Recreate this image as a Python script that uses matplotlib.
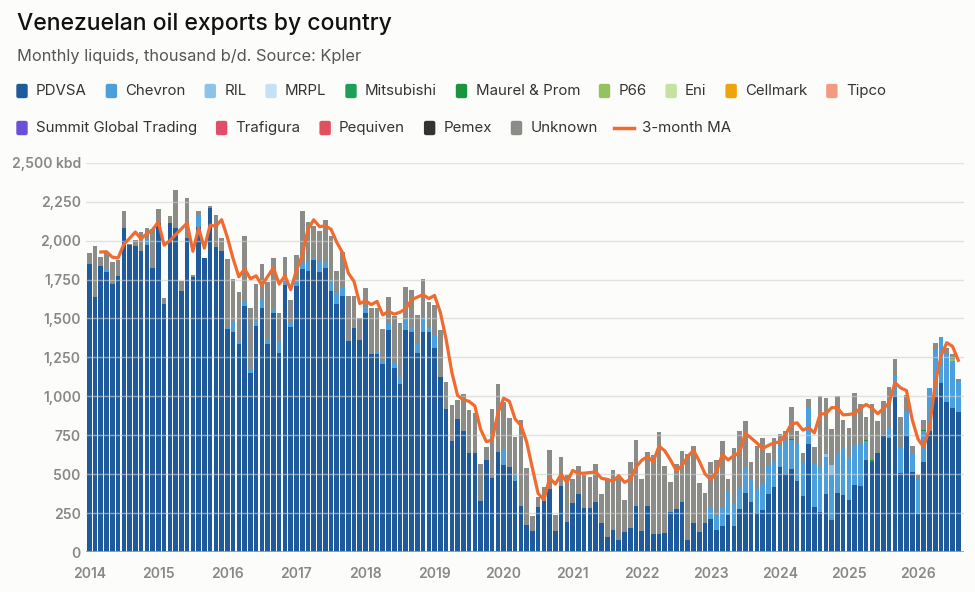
import matplotlib.pyplot as plt
from matplotlib.patches import FancyBboxPatch
from matplotlib.lines import Line2D
import numpy as np
import pandas as pd

plt.rcParams['font.family'] = ['Inter', 'DejaVu Sans']

months = pd.date_range('2014-01-01', periods=152, freq='MS')

# kbd, one value per month
pdvsa = [
    1848, 1638, 1840, 1797, 1724, 1773, 2083, 1972, 1966, 1936, 1972, 1827,
    2111, 1596, 2111, 2083, 1677, 2019, 1765, 2085, 1887, 2207, 1957, 1934,
    1433, 1410, 1335, 1581, 1153, 1452, 1570, 1335, 1538, 1277, 1715, 1444,
    1709, 1818, 1805, 1876, 1801, 1827, 1679, 1596, 1647, 1358, 1442, 1363,
    1538, 1273, 1273, 1209, 1427, 1181, 1080, 1427, 1410, 1277, 1410, 1410,
    1309, 1121, 918, 714, 853, 779, 635, 635, 329, 593, 475, 645,
    558, 543, 457, 295, 173, 137, 286, 327, 402, 135, 423, 192,
    312, 372, 280, 284, 323, 188, 98, 141, 77, 130, 152, 297,
    135, 295, 115, 115, 120, 254, 276, 323, 77, 184, 126, 184,
    212, 141, 167, 237, 169, 274, 380, 321, 248, 267, 372, 419,
    547, 504, 530, 455, 359, 692, 291, 256, 372, 205, 380, 365,
    334, 430, 424, 591, 580, 638, 745, 730, 1002, 506, 752, 516,
    244, 580, 778, 1002, 1088, 966, 923, 901,
]
chevron = [
    0, 0, 0, 21, 0, 0, 0, 0, 0, 0, 36, 0,
    0, 0, 0, 0, 0, 0, 0, 75, 0, 0, 0, 0,
    8, 70, 23, 32, 17, 32, 51, 36, 21, 81, 33, 30,
    43, 37, 60, 21, 64, 38, 53, 66, 53, 0, 0, 0,
    38, 0, 17, 11, 38, 32, 47, 68, 32, 68, 92, 32,
    86, 0, 0, 0, 0, 0, 0, 0, 0, 0, 0, 0,
    96, 0, 37, 0, 0, 0, 0, 0, 0, 0, 0, 0,
    0, 0, 0, 0, 0, 0, 0, 0, 0, 0, 0, 0,
    0, 0, 0, 0, 0, 0, 0, 0, 0, 0, 0, 0,
    79, 92, 124, 150, 143, 134, 167, 151, 154, 167, 186, 156,
    133, 210, 188, 237, 220, 240, 273, 291, 239, 289, 248, 306,
    268, 258, 272, 122, 0, 0, 0, 69, 135, 160, 150, 122,
    219, 200, 274, 296, 292, 304, 301, 189,
]
unknown = [
    70, 330, 55, 105, 140, 105, 105, 5, 35, 120, 70, 250,
    95, 35, 50, 240, 65, 255, 15, 30, 0, 15, 210, 80,
    440, 275, 310, 420, 395, 240, 230, 365, 330, 180, 150, 145,
    155, 335, 255, 195, 195, 265, 300, 145, 230, 285, 200, 140,
    120, 295, 275, 215, 170, 300, 345, 210, 240, 180, 250, 165,
    190, 305, 175, 230, 125, 235, 275, 255, 235, 80, 445, 435,
    310, 315, 245, 550, 365, 95, 70, 90, 250, 105, 185, 300,
    160, 180, 215, 200, 240, 185, 365, 385, 405, 205, 425, 425,
    335, 350, 510, 655, 435, 195, 290, 325, 550, 500, 315, 195,
    285, 355, 425, 85, 355, 370, 295, 105, 280, 300, 80, 155,
    75, 65, 210, 85, 60, 50, 110, 455, 360, 230, 375, 180,
    195, 335, 255, 150, 365, 205, 225, 260, 100, 200, 105, 40,
    30, 65, 0, 45, 0, 40, 35, 20,
]
# small buyers, only the months where they show up
ril = {'2024-09': 20, '2024-10': 64}
maurel = {'2024-03': 5, '2025-04': 6, '2025-05': 8, '2026-02': 4}
p66 = {'2026-07': 15}

legend_names = ['PDVSA', 'Chevron', 'RIL', 'MRPL', 'Mitsubishi', 'Maurel & Prom',
                'P66', 'Eni', 'Cellmark', 'Tipco', 'Summit Global Trading',
                'Trafigura', 'Pequiven', 'Pemex', 'Unknown']
colors = {
    'PDVSA': '#1f5b9c', 'Chevron': '#4a9fdc', 'RIL': '#8cc3ea', 'MRPL': '#c5e1f5',
    'Mitsubishi': '#1f9e58', 'Maurel & Prom': '#1a9440', 'P66': '#93c35a',
    'Eni': '#c4e2a0', 'Cellmark': '#f0a30a', 'Tipco': '#f29b80',
    'Summit Global Trading': '#6b4fd6', 'Trafigura': '#e04f68',
    'Pequiven': '#e2505e', 'Pemex': '#333333', 'Unknown': '#8b8b87',
}
ma_color = '#f06b2f'
bg = '#fcfcfa'


def sparse(d):
    s = pd.Series(0.0, index=months.strftime('%Y-%m'))
    for k, v in d.items():
        s[k] = v
    return s.values


stack = [
    ('PDVSA', np.array(pdvsa, float)),
    ('Chevron', np.array(chevron, float)),
    ('RIL', sparse(ril)),
    ('Maurel & Prom', sparse(maurel)),
    ('P66', sparse(p66)),
    ('Unknown', np.array(unknown, float)),
]

W, H = 975, 592
fig = plt.figure(figsize=(W / 100, H / 100), dpi=100, facecolor=bg)
ax = fig.add_axes([86.4 / W, 1 - 552 / H, (964 - 86.4) / W, (552 - 162.8) / H])
ax.set_facecolor(bg)

x = np.arange(len(months))
bottom = np.zeros(len(months))
for name, vals in stack:
    ax.bar(x, vals, bottom=bottom, width=0.8, color=colors[name], linewidth=0, zorder=1)
    bottom += vals

total = pd.Series(bottom)
ma = total.rolling(3).mean()
ax.plot(x, ma, color=ma_color, lw=2.3, zorder=4, solid_joinstyle='round')

ax.set_xlim(-0.5, 152)
ax.set_ylim(0, 2500)
yt = np.arange(0, 2501, 250)
ax.set_yticks(yt)
ax.set_yticklabels([f'{v:,}' + (' kbd' if v == 2500 else '') for v in yt])
ax.set_xticks(x[::12])
ax.set_xticklabels(months[::12].year)
ax.tick_params(length=0, labelsize=10, labelcolor='#888888')
ax.tick_params(axis='x', pad=11)
ax.tick_params(axis='y', pad=4)
for lab in ax.get_xticklabels() + ax.get_yticklabels():
    lab.set_fontweight('semibold')
for s in ax.spines.values():
    s.set_visible(False)
ax.set_axisbelow(False)
ax.yaxis.grid(True, color='#cfcfcf', lw=1, alpha=0.6)
ax.axhline(0, color='#a0a0a0', lw=1.3, zorder=3)

# titles
fig.text(17 / W, 1 - 24 / H, 'Venezuelan oil exports by country', fontsize=16.5,
         fontweight='medium', color='#111111', va='center')
fig.text(17 / W, 1 - 57 / H, 'Monthly liquids, thousand b/d. Source: Kpler',
         fontsize=11.8, color='#555555', va='center')

# legend, laid out left to right like the original
renderer = fig.canvas.get_renderer()
rows = [legend_names[:10], legend_names[10:] + ['3-month MA']]
for row, yc in zip(rows, [91, 128]):
    xp = 17
    for name in row:
        if name == '3-month MA':
            fig.add_artist(Line2D([(xp - 3) / W, (xp + 17) / W], [1 - yc / H] * 2,
                                  color=ma_color, lw=2.5, transform=fig.transFigure))
            tx = xp + 25
        else:
            fig.add_artist(FancyBboxPatch((xp / W, 1 - (yc + 6.5) / H), 10 / W, 13 / H,
                                          boxstyle='round,pad=0,rounding_size=0.002',
                                          color=colors[name], transform=fig.transFigure))
            tx = xp + 19
        t = fig.text(tx / W, 1 - yc / H, name, fontsize=10.8, color='#333333', va='center')
        xp = tx + t.get_window_extent(renderer).width + 19.5

fig.savefig('out.png', dpi=100, facecolor=bg)
